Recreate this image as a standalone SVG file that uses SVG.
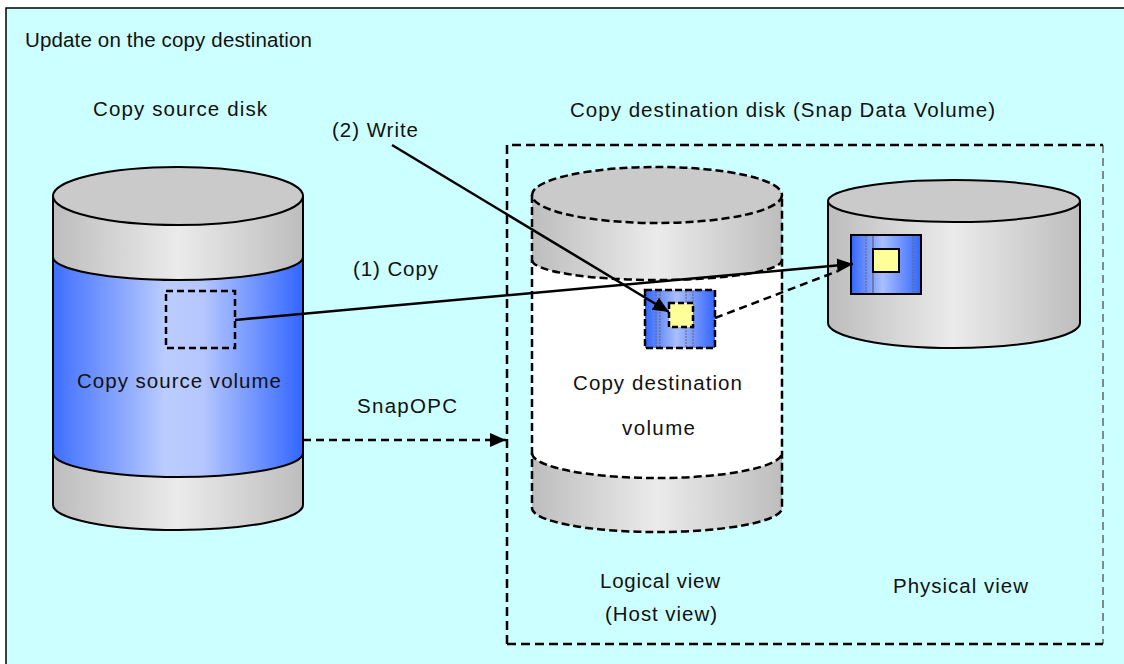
<svg xmlns="http://www.w3.org/2000/svg" width="1124" height="664" viewBox="0 0 1124 664">
<defs>
<linearGradient id="gray" x1="0" y1="0" x2="1" y2="0">
<stop offset="0" stop-color="#BDBDBD"/><stop offset="0.5" stop-color="#EBEBEB"/><stop offset="1" stop-color="#BDBDBD"/>
</linearGradient>
<linearGradient id="blue" x1="0" y1="0" x2="1" y2="0">
<stop offset="0" stop-color="#3F6FFF"/><stop offset="0.45" stop-color="#BBCCFF"/><stop offset="0.6" stop-color="#B5C7FF"/><stop offset="1" stop-color="#3366FF"/>
</linearGradient>
<linearGradient id="blueS" x1="0" y1="0" x2="1" y2="0">
<stop offset="0" stop-color="#3366FF"/><stop offset="0.45" stop-color="#AABFFF"/><stop offset="1" stop-color="#3366FF"/>
</linearGradient>
<marker id="ah" markerUnits="userSpaceOnUse" markerWidth="17" markerHeight="14" refX="16" refY="7" orient="auto">
<path d="M0,0 L16,7 L0,14 Z" fill="#000"/>
</marker>
<style>
text{font-family:"Liberation Sans",Arial,sans-serif;font-size:20.5px;fill:#111;}
.ol{fill:none;stroke:#000;stroke-width:2;}
.dol{fill:none;stroke:#000;stroke-width:2.5;stroke-dasharray:8,4;}
.ln{fill:none;stroke:#000;stroke-width:2.5;}
.vl{stroke:#666;stroke-width:1;stroke-dasharray:2,1;}
</style>
</defs>

<rect id="frame" x="6" y="8" width="1130" height="670" fill="#CCFFFF" stroke="#000" stroke-width="1.5"/>

<g id="labels">
<text x="25" y="47" textLength="287" lengthAdjust="spacing">Update on the copy destination</text>
<text x="93" y="116" textLength="174" lengthAdjust="spacing">Copy source disk</text>
<text x="570" y="117" textLength="425" lengthAdjust="spacing">Copy destination disk (Snap Data Volume)</text>
<text x="332" y="137" textLength="86" lengthAdjust="spacing">(2) Write</text>
<text x="353" y="276" textLength="85" lengthAdjust="spacing">(1) Copy</text>
<text x="357" y="413" textLength="100" lengthAdjust="spacing">SnapOPC</text>
</g>

<g id="destination-frame">
<path d="M1103,145 V644" fill="none" stroke="#666" stroke-width="1.5" stroke-dasharray="8,5"/>
<path d="M507,644 V145 H1103 M507,644 H1103" fill="none" stroke="#000" stroke-width="2.5" stroke-dasharray="9,5"/>
</g>

<g id="source-volume">
<path d="M53,196 V505 A125,25 0 0 0 303,505 V196 Z" fill="url(#gray)"/>
<path d="M53,257 A125,23 0 0 0 303,257 V453 A125,24 0 0 1 53,453 Z" fill="url(#blue)"/>
<ellipse cx="178" cy="196" rx="125" ry="29" fill="#CACACA"/>
<path class="ol" d="M53,196 V505 A125,25 0 0 0 303,505 V196"/>
<ellipse class="ol" cx="178" cy="196" rx="125" ry="29"/>
<path class="ol" d="M53,257 A125,23 0 0 0 303,257 M53,453 A125,24 0 0 0 303,453"/>
<rect x="166" y="291" width="69" height="57" fill="none" stroke="#000" stroke-width="2.5" stroke-dasharray="7,4"/>
<text x="77" y="388" textLength="204" lengthAdjust="spacing">Copy source volume</text>
</g>

<g id="destination-volume">
<path d="M532,195 V508 A125,24 0 0 0 782,508 V195 Z" fill="url(#gray)"/>
<path d="M532,260 A125,20 0 0 0 782,260 V453 A125,25 0 0 1 532,453 Z" fill="#FFFFFF"/>
<ellipse cx="657" cy="195" rx="125" ry="28" fill="#CACACA"/>
<path class="dol" d="M532,195 V508 A125,24 0 0 0 782,508 V195"/>
<ellipse class="dol" cx="657" cy="195" rx="125" ry="28"/>
<path class="dol" d="M532,260 A125,20 0 0 0 782,260 M532,453 A125,25 0 0 0 782,453"/>
<rect x="645" y="290" width="70" height="58" fill="url(#blueS)"/>
<line class="vl" x1="656" y1="291" x2="656" y2="347"/>
<line class="vl" x1="660" y1="291" x2="660" y2="347"/>
<line class="vl" x1="686" y1="291" x2="686" y2="347"/>
<line class="vl" x1="693" y1="291" x2="693" y2="347"/>
<rect x="645" y="290" width="70" height="58" fill="none" stroke="#000" stroke-width="2.5" stroke-dasharray="7,3"/>
<rect x="669" y="303" width="24" height="24" fill="#FFFF99" stroke="#000" stroke-width="2.5" stroke-dasharray="6,3"/>
<text x="573" y="390" textLength="169" lengthAdjust="spacing">Copy destination</text>
<text x="622" y="435" textLength="73" lengthAdjust="spacing">volume</text>
<text x="600" y="588" textLength="120" lengthAdjust="spacing">Logical view</text>
<text x="605" y="621" textLength="112" lengthAdjust="spacing">(Host view)</text>
</g>

<g id="physical-disk">
<path d="M828,201 V323 A126,25 0 0 0 1080,323 V201 Z" fill="url(#gray)"/>
<ellipse cx="954" cy="201" rx="126" ry="21" fill="#CACACA"/>
<path class="ol" d="M828,201 V323 A126,25 0 0 0 1080,323 V201"/>
<ellipse class="ol" cx="954" cy="201" rx="126" ry="21"/>
<rect x="851" y="235" width="70" height="59" fill="url(#blueS)"/>
<line class="vl" x1="866" y1="236" x2="866" y2="293"/>
<line class="vl" x1="913" y1="236" x2="913" y2="293"/>
<line x1="873" y1="236" x2="873" y2="293" stroke="#555" stroke-width="1"/>
<rect x="851" y="235" width="70" height="59" fill="none" stroke="#000" stroke-width="2"/>
<rect x="873" y="249" width="26" height="23" fill="#FFFF99" stroke="#000" stroke-width="2"/>
<text x="893" y="593" textLength="135" lengthAdjust="spacing">Physical view</text>
</g>

<g id="connectors">
<line class="ln" x1="235" y1="320" x2="853" y2="264" marker-end="url(#ah)"/>
<line class="ln" x1="392" y1="145" x2="669" y2="312" marker-end="url(#ah)"/>
<line x1="715" y1="318" x2="838" y2="271" stroke="#000" stroke-width="2.5" stroke-dasharray="8,5"/>
<line x1="303" y1="440" x2="506" y2="440" stroke="#000" stroke-width="2.5" stroke-dasharray="8,5" marker-end="url(#ah)"/>
</g>
</svg>
